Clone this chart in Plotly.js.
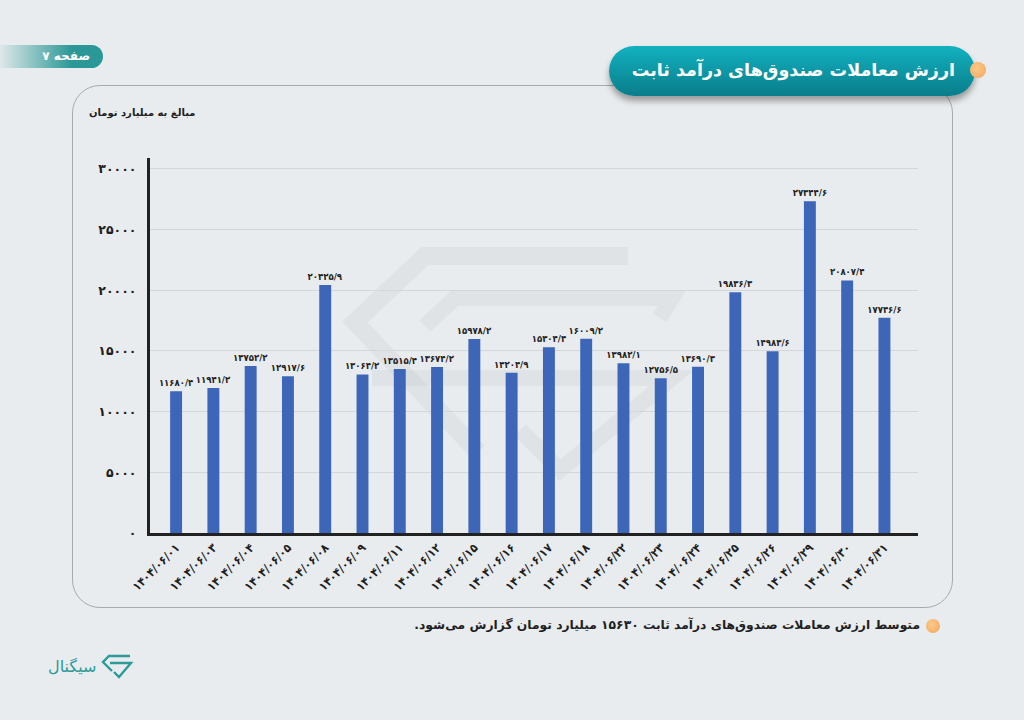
<!DOCTYPE html>
<html lang="fa">
<head>
<meta charset="utf-8">
<title>ارزش معاملات صندوق‌های درآمد ثابت</title>
<script src="https://cdn.plot.ly/plotly-3.0.1.min.js"></script>
<style>
  html, body { margin: 0; padding: 0; }
  body {
    width: 1024px; height: 720px; overflow: hidden; position: relative;
    background: #e9ecee; font-family: "DejaVu Sans", sans-serif;
  }
  #panel {
    position: absolute; left: 72px; top: 85px; width: 879px; height: 521px;
    border: 1px solid #a7aaad; border-radius: 28px;
  }
  #tab {
    position: absolute; left: 0; top: 45px; width: 103px; height: 23px;
    border-radius: 0 12px 12px 0;
    background: linear-gradient(to right, rgba(40,150,150,0.05), #2a9896 70%);
    color: #fff; font-size: 12px; font-weight: bold; line-height: 23px;
    text-align: right; padding-right: 13px; box-sizing: border-box;
  }
  #pill {
    position: absolute; left: 609px; top: 46px; width: 366px; height: 50px;
    border-radius: 25px;
    background: linear-gradient(#12b1c0, #0a7d8a);
    box-shadow: 0 5px 6px rgba(0,0,0,0.35);
  }
  .dot {
    position: absolute; border-radius: 50%;
    background: radial-gradient(circle at 40% 40%, #fbc98a, #f4a55a);
  }
  #chart { position: absolute; left: 0; top: 0; width: 1024px; height: 720px; }
  #note {
    position: absolute; right: 104px; top: 618px; direction: rtl;
    font-size: 12.3px; font-weight: bold; color: #1f1f1f; white-space: nowrap;
  }
  #logo {
    position: absolute; left: 48px; top: 652px; height: 28px;
    display: flex; align-items: center; gap: 4px; color: #2b9a98; font-size: 16px;
  }
</style>
</head>
<body>
<div id="panel"></div>
<div id="tab">صفحه ۷</div>
<div id="pill"></div>
<div class="dot" style="left:970px; top:62px; width:16px; height:16px;"></div>
<div class="dot" style="left:926px; top:619px; width:14px; height:14px;"></div>
<div id="note">متوسط ارزش معاملات صندوق‌های درآمد ثابت ۱۵۶۳۰ میلیارد تومان گزارش می‌شود.</div>
<div id="logo">
  <span dir="rtl">سیگنال</span>
  <svg width="34" height="26" viewBox="0 0 34 26">
    <path d="M30 3 H9 L3 9 L12 18" fill="none" stroke="#2b9a98" stroke-width="2.4"/>
    <path d="M10 10 H31 L19 24 L14 19" fill="none" stroke="#2b9a98" stroke-width="2.4"/>
  </svg>
</div>
<div id="chart"></div>

<script>
const dates = [
  '1404/06/01', '1404/06/03', '1404/06/04', '1404/06/05', '1404/06/08',
  '1404/06/09', '1404/06/11', '1404/06/12', '1404/06/15', '1404/06/16',
  '1404/06/17', '1404/06/18', '1404/06/22', '1404/06/23', '1404/06/24',
  '1404/06/25', '1404/06/26', '1404/06/29', '1404/06/30', '1404/06/31'
];
const values = [
  11680.4, 11941.2, 13752.2, 12917.6, 20425.9,
  13064.2, 13515.4, 13674.2, 15978.2, 13204.9,
  15304.4, 16009.2, 13982.1, 12756.5, 13690.3,
  19836.3, 14983.6, 27344.6, 20807.4, 17746.6
];
const yTicks = [0, 5000, 10000, 15000, 20000, 25000, 30000];

// latin digits -> persian digits, '.' -> '/'
const faDigits = '۰۱۲۳۴۵۶۷۸۹';
function toFa(s) {
  return String(s).replace(/[0-9]/g, d => faDigits[d]).replace('.', '/');
}

const faDates = dates.map(toFa);

// pixel -> paper helpers (plot area is 150..918 x 158..533)
const px = x => (x - 150) / 768;
const py = y => (533 - y) / 375;
function path(points) {
  return points.map((p, i) => (i ? 'L' : 'M') + px(p[0]).toFixed(4) + ',' + py(p[1]).toFixed(4)).join(' ');
}
const ghost = 'rgba(120,125,130,0.08)';

const trace = {
  x: faDates,
  y: values,
  type: 'bar',
  width: 0.32,
  marker: { color: '#3d66b8' },
  text: values.map(v => toFa(v.toFixed(1))),
  textposition: 'outside',
  constraintext: 'none',
  cliponaxis: false,
  textfont: { family: 'DejaVu Sans Condensed, DejaVu Sans', size: 9.5, color: '#1e1e1e', weight: 'bold' },
  hoverinfo: 'none'
};

const layout = {
  width: 1024,
  height: 720,
  margin: { l: 150, r: 106, t: 158, b: 187 },
  paper_bgcolor: 'rgba(0,0,0,0)',
  plot_bgcolor: 'rgba(0,0,0,0)',
  showlegend: false,
  font: { family: 'DejaVu Sans, sans-serif', color: '#1e1e1e' },
  title: {
    text: 'ارزش معاملات صندوق‌های درآمد ثابت',
    xref: 'container', yref: 'container',
    x: 955 / 1024, xanchor: 'right',
    y: 1 - 70 / 720, yanchor: 'middle',
    font: { size: 17.5, color: '#ffffff', weight: 'bold' }
  },
  xaxis: {
    type: 'category',
    range: [-0.7, 19.9],
    showline: true, linecolor: '#222', linewidth: 3,
    showgrid: false, ticks: '',
    tickangle: -45,
    tickfont: { family: 'DejaVu Sans Condensed, DejaVu Sans', size: 12, color: '#1e1e1e', weight: 'bold' },
    fixedrange: true
  },
  yaxis: {
    range: [0, 30900],
    tickvals: yTicks,
    ticktext: yTicks.map(toFa),
    showline: true, linecolor: '#222', linewidth: 3,
    showgrid: true, gridcolor: '#d3d6da', gridwidth: 1,
    zeroline: false, ticks: '', ticklabelstandoff: 8,
    tickfont: { size: 12.5, color: '#1e1e1e', weight: 'bold' },
    fixedrange: true
  },
  annotations: [{
    text: 'مبالغ به میلیارد تومان',
    xref: 'paper', yref: 'paper',
    x: px(87), y: py(113), xanchor: 'left', yanchor: 'middle',
    showarrow: false,
    font: { size: 10, color: '#1e1e1e', weight: 'bold' }
  }],
  shapes: [
    { type: 'path', layer: 'below', xref: 'paper', yref: 'paper',
      path: path([[628, 256], [425, 256], [355, 322], [478, 452]]),
      line: { color: ghost, width: 18 } },
    { type: 'path', layer: 'below', xref: 'paper', yref: 'paper',
      path: path([[425, 326], [455, 298], [672, 298], [660, 318]]),
      line: { color: ghost, width: 16 } },
    { type: 'path', layer: 'below', xref: 'paper', yref: 'paper',
      path: path([[372, 378], [672, 378], [560, 470], [520, 430]]),
      line: { color: ghost, width: 16 } }
  ]
};

Plotly.newPlot('chart', [trace], layout, { displayModeBar: false, staticPlot: true });
</script>
</body>
</html>
